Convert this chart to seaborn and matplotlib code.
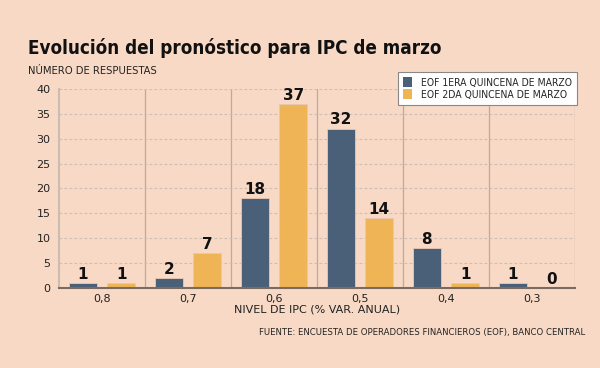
import matplotlib
matplotlib.use("Agg")
import matplotlib.pyplot as plt
import seaborn as sns
import pandas as pd

# datos
categorias = ["0,8", "0,7", "0,6", "0,5", "0,4", "0,3"]
primera_quincena = [1, 2, 18, 32, 8, 1]
segunda_quincena = [1, 7, 37, 14, 1, 0]
series = ["EOF 1ERA QUINCENA DE MARZO", "EOF 2DA QUINCENA DE MARZO"]
colores = ["#4a6078", "#eeb456"]
fondo = "#f8d9c5"

df = pd.DataFrame({
    "nivel": categorias * 2,
    "respuestas": primera_quincena + segunda_quincena,
    "serie": [series[0]] * len(categorias) + [series[1]] * len(categorias),
})

sns.set_theme(style="white")
plt.rcParams["font.family"] = ["DejaVu Sans"]
plt.rcParams["font.stretch"] = "condensed"

fig = plt.figure(figsize=(6, 3.68), dpi=100, facecolor=fondo)
ax = fig.add_axes([0.0983, 0.2174, 0.86, 0.5408])
ax.set_facecolor(fondo)

sns.barplot(data=df, x="nivel", y="respuestas", hue="serie", order=categorias,
            hue_order=series, palette=colores, width=0.9, gap=0.28,
            saturation=1, ax=ax, legend=True, edgecolor="#e8c8b4", linewidth=0.6)

# etiquetas de valor
for cont in ax.containers:
    ax.bar_label(cont, fmt="%d", padding=1, fontsize=11, fontweight="bold",
                 color="#111111", fontstretch="normal")

ax.set_ylim(0, 40)
ax.set_xlim(-0.5, len(categorias) - 0.5)
ax.set_yticks(range(0, 41, 5))
ax.yaxis.grid(True, linestyle=(0, (2.5, 2)), color="#cdbdb2", linewidth=0.8)
ax.set_axisbelow(True)
for x in range(len(categorias)):
    ax.axvline(x + 0.5, color="#b8aba2", linewidth=0.9, zorder=0.5)

for s in ["top", "right"]:
    ax.spines[s].set_visible(False)
ax.spines["left"].set_color("#cbbcb2")
ax.spines["left"].set_linewidth(1.5)
ax.spines["bottom"].set_color("#7a6a5f")
ax.spines["bottom"].set_linewidth(1.5)

ax.tick_params(axis="both", length=0, labelsize=8, colors="#222222")
ax.tick_params(axis="y", pad=6)
ax.tick_params(axis="x", pad=4)
for t in ax.get_xticklabels() + ax.get_yticklabels():
    t.set_fontstretch("normal")
ax.set_xlabel("NIVEL DE IPC (% VAR. ANUAL)", fontsize=8, color="#222222",
              labelpad=1, fontstretch="normal")
ax.set_ylabel("")

leg = ax.legend(loc="upper right", bbox_to_anchor=(577 / 600, 1 - 72 / 368),
                bbox_transform=fig.transFigure, fontsize=7.5, frameon=True,
                fancybox=False, framealpha=1, edgecolor="#888888",
                handlelength=0.9, handleheight=1.1, handletextpad=0.8,
                borderpad=0.5, labelspacing=0.15, borderaxespad=0)
leg.get_frame().set_linewidth(0.8)
for h in leg.legend_handles:
    h.set_edgecolor("none")

fig.text(28 / 600, 1 - 48 / 368, "Evolución del pronóstico para IPC de marzo",
         fontsize=13.5, fontweight="bold", color="#111111", va="center")
fig.text(28 / 600, 1 - 71 / 368, "NÚMERO DE RESPUESTAS", fontsize=8,
         color="#222222", va="center")
fig.text(585 / 600, 1 - 333 / 368,
         "FUENTE: ENCUESTA DE OPERADORES FINANCIEROS (EOF), BANCO CENTRAL",
         fontsize=6.8, color="#222222", ha="right", va="center")

fig.savefig("out.png", dpi=100, facecolor=fondo)
